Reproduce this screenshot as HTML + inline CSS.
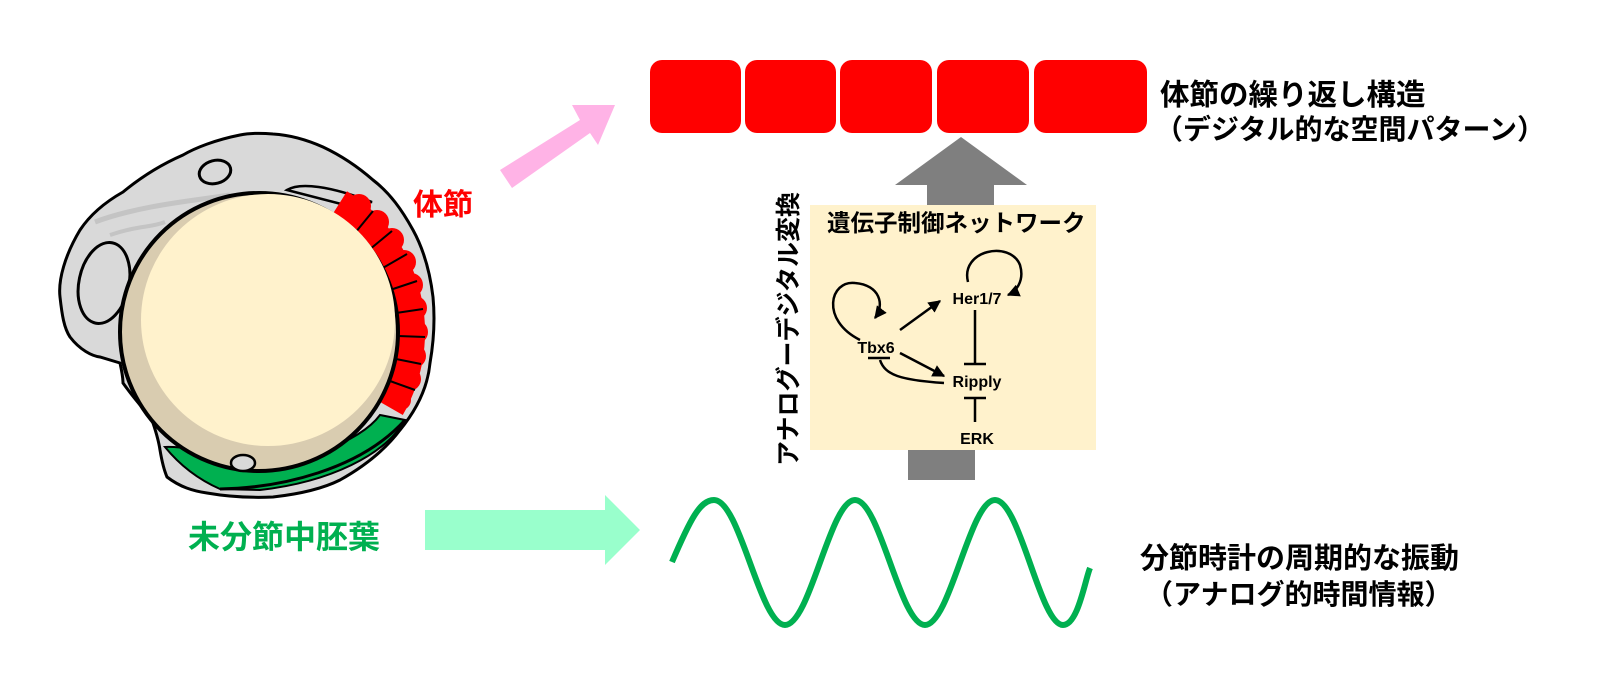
<!DOCTYPE html>
<html><head><meta charset="utf-8"><style>
html,body{margin:0;padding:0;background:#fff;}
svg{display:block;}
text{font-family:"Liberation Sans","Noto Sans CJK JP",sans-serif;font-weight:bold;}
</style></head><body>
<svg width="1600" height="697" viewBox="0 0 1600 697" xmlns="http://www.w3.org/2000/svg">
<defs>
<marker id="ah" viewBox="0 0 10 10" refX="9" refY="5" markerWidth="5" markerHeight="5" orient="auto"><path d="M0,0L10,5L0,10z" fill="#000"/></marker>
</defs>
<g fill="#ff0000">
<rect x="650" y="60" width="91" height="73" rx="12"/>
<rect x="745" y="60" width="91" height="73" rx="12"/>
<rect x="840" y="60" width="92" height="73" rx="12"/>
<rect x="937" y="60" width="92" height="73" rx="12"/>
<rect x="1034" y="60" width="113" height="73" rx="12"/>
</g>
<text x="1160" y="105" font-size="29.5">体節の繰り返し構造</text>
<text x="1155" y="139" font-size="28">（デジタル的な空間パターン）</text>

<polygon points="500,170 580,120 572,105 615,105 598,145 590,133 512,188" fill="#ffb3e6"/>
<polygon points="425,510 605,510 605,495 640,530 605,565 605,550 425,550" fill="#99ffcc"/>

<polygon points="927,205 927,185 895,185 961,137 1027,185 994,185 994,205" fill="#7f7f7f"/>
<rect x="908" y="450" width="67" height="30" fill="#7f7f7f"/>
<rect x="810" y="205" width="286" height="245" fill="#fff2cc"/>
<text x="827" y="231" font-size="23.5">遺伝子制御ネットワーク</text>
<text transform="translate(797,466) rotate(-90)" font-size="25">アナログーデジタル変換</text>
<g font-size="16" text-anchor="middle">
<text x="876" y="353">Tbx6</text>
<text x="977" y="304">Her1/7</text>
<text x="977" y="387">Ripply</text>
<text x="977" y="444">ERK</text>
</g>
<g stroke="#000" stroke-width="2.5" fill="none">
<path d="M860,340 C820,320 830,280 855,283 C880,285 885,305 875,318" marker-end="url(#ah)"/>
<path d="M968,282 C960,250 1010,240 1020,265 C1025,282 1015,292 1008,295" marker-end="url(#ah)"/>
<line x1="900" y1="330" x2="940" y2="301" marker-end="url(#ah)"/>
<line x1="900" y1="353" x2="944" y2="376" marker-end="url(#ah)"/>
<path d="M944,383 C900,380 885,375 880,360"/>
<line x1="868" y1="358" x2="890" y2="358"/>
<line x1="975" y1="310" x2="975" y2="364"/>
<line x1="964" y1="364" x2="986" y2="364"/>
<line x1="975" y1="422" x2="975" y2="398"/>
<line x1="964" y1="398" x2="986" y2="398"/>
</g>

<path d="M672,562 C690,520 700,500 714,500 C740,500 760,625 785,625 C810,625 830,500 855,500 C880,500 900,625 925,625 C950,625 970,500 995,500 C1020,500 1040,625 1063,625 C1078,625 1085,580 1090,568" stroke="#00b050" stroke-width="6" fill="none"/>
<text x="1140" y="568" font-size="29">分節時計の周期的な振動</text>
<text x="1145" y="604" font-size="28">（アナログ的時間情報）</text>

<text x="413" y="215" font-size="30" fill="#ff0000">体節</text>
<text x="188" y="548" font-size="32" fill="#00b050">未分節中胚葉</text>

<!-- embryo -->
<path d="M240,135 C215,140 195,148 183,155 C160,165 140,178 123,192 C100,205 88,218 80,230 C65,255 58,280 60,297 C62,315 64,328 70,337 C80,350 92,356 100,357 L120,363 C122,372 123,378 123,383 C135,400 147,412 153,423 C157,435 159,443 160,450 C162,462 164,470 167,477 C180,487 193,491 207,493 C230,497 250,498 273,497 C300,494 322,489 340,480 C365,466 385,450 400,430 C418,408 428,385 430,363 C434,340 435,318 433,297 C430,272 424,250 413,230 C402,210 390,193 373,180 C357,166 340,155 323,147 C305,139 290,135 273,134 C262,133 250,133 240,135Z" fill="#d9d9d9" stroke="#000" stroke-width="3"/>
<path d="M95,222 C140,205 200,200 230,195" stroke="#c4c4c4" stroke-width="5" fill="none"/>
<path d="M110,235 C140,225 150,228 165,222" stroke="#c4c4c4" stroke-width="4" fill="none"/>
<ellipse cx="215" cy="172" rx="16" ry="11.5" fill="#d9d9d9" stroke="#000" stroke-width="3" transform="rotate(-15 215 172)"/>
<ellipse cx="104" cy="283" rx="25" ry="41" fill="#d9d9d9" stroke="#000" stroke-width="3" transform="rotate(12 104 283)"/>
<path d="M287,190 C300,182 330,186 372,202 L345,205Z" fill="#d9d9d9" stroke="#000" stroke-width="2.5"/>
<!-- somites -->
<g transform="translate(259,332)">
<path d="M71.5,-114.5 L88,-140.8 A166,166 0 0 1 143.8,83 L116.9,67.5 A135,135 0 0 0 71.5,-114.5Z" fill="#ff0000"/>
<g fill="#ff0000">
<circle cx="100" cy="-126" r="12"/><circle cx="118" cy="-110" r="12"/><circle cx="133" cy="-92" r="12"/>
<circle cx="145" cy="-70" r="12"/><circle cx="152" cy="-47" r="12"/><circle cx="156" cy="-24" r="12"/>
<circle cx="157" cy="0" r="12"/><circle cx="155" cy="24" r="12"/><circle cx="150" cy="47" r="12"/>
<circle cx="142" cy="68" r="10"/>
</g>
<g stroke="#000" stroke-width="2">
<line x1="96" y1="-99" x2="114" y2="-121"/>
<line x1="110" y1="-82" x2="133" y2="-101"/>
<line x1="122" y1="-63" x2="148" y2="-78"/>
<line x1="131" y1="-42" x2="158" y2="-51"/>
<line x1="137" y1="-19" x2="164" y2="-23"/>
<line x1="139" y1="4" x2="166" y2="5"/>
<line x1="137" y1="27" x2="162" y2="32"/>
<line x1="131" y1="49" x2="156" y2="58"/>
</g>
</g>
<!-- green PSM -->
<path d="M380,415 L405,420 C385,455 330,482 260,490 L220,489 C195,478 178,463 165,447 C190,446 215,456 240,462 C300,465 360,442 380,415Z" fill="#00b050" stroke="#000" stroke-width="2"/>
<path d="M220,489 C280,488 360,470 405,420" stroke="#000" stroke-width="3" fill="none"/>
<!-- yolk -->
<circle cx="259" cy="332" r="139" fill="#d9ccb0" stroke="#000" stroke-width="4"/>
<ellipse cx="268" cy="320" rx="127" ry="126" fill="#fff2cc"/>
<ellipse cx="243" cy="463" rx="12" ry="8" fill="#d9d9d9" stroke="#000" stroke-width="2.5"/>
</svg>
</body></html>
